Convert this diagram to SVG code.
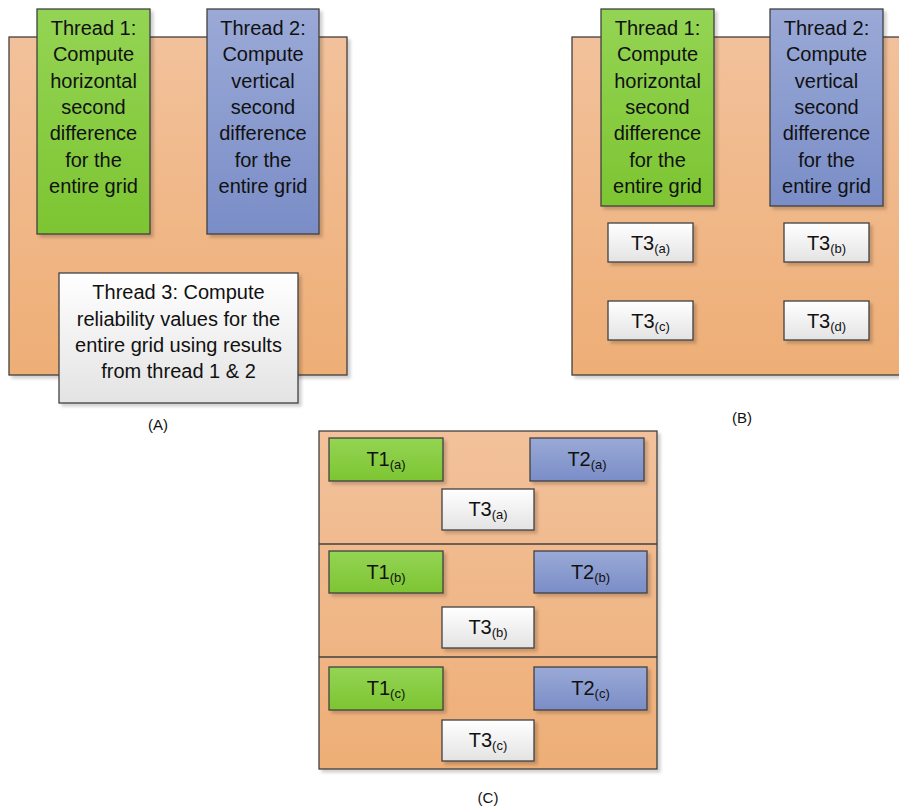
<svg xmlns="http://www.w3.org/2000/svg" width="899" height="809" viewBox="0 0 899 809">
<defs>
<linearGradient id="gOr" x1="0" y1="0" x2="0" y2="1"><stop offset="0" stop-color="#F2C19B"/><stop offset="1" stop-color="#EEAE76"/></linearGradient>
<linearGradient id="gGr" x1="0" y1="0" x2="0" y2="1"><stop offset="0" stop-color="#94D454"/><stop offset="1" stop-color="#7DC532"/></linearGradient>
<linearGradient id="gBl" x1="0" y1="0" x2="0" y2="1"><stop offset="0" stop-color="#9AA9D6"/><stop offset="1" stop-color="#7A8DC7"/></linearGradient>
<linearGradient id="gWh" x1="0" y1="0" x2="0" y2="1"><stop offset="0" stop-color="#FFFFFF"/><stop offset="1" stop-color="#E3E3E3"/></linearGradient>
<filter id="sh" x="-10%" y="-10%" width="130%" height="130%"><feDropShadow dx="3" dy="3" stdDeviation="1.5" flood-color="#000" flood-opacity="0.18"/></filter>
</defs>
<style>
.box{stroke:#404040;stroke-width:1.3;filter:url(#sh)}
.or{fill:url(#gOr)}
.gr{fill:url(#gGr)}
.bl{fill:url(#gBl)}
.wh{fill:url(#gWh)}
.div{stroke:#404040;stroke-width:1.3}
text{font-family:"Liberation Sans",Arial,sans-serif;fill:#111;text-anchor:middle}
.big{font-size:20px}
.sub{font-size:13px}
.lbl{font-size:15px}
</style>

<g id="panelA">
<rect class="box or" x="9" y="37" width="338" height="338"/>
<g id="A_thread1">
<rect class="box gr" x="37" y="9" width="113" height="225"/>
<text class="big"><tspan x="93.5" y="35">Thread 1:</tspan><tspan x="93.5" y="61">Compute</tspan><tspan x="93.5" y="88">horizontal</tspan><tspan x="93.5" y="114">second</tspan><tspan x="93.5" y="140">difference</tspan><tspan x="93.5" y="167">for the</tspan><tspan x="93.5" y="193">entire grid</tspan></text>
</g>
<g id="A_thread2">
<rect class="box bl" x="207" y="9" width="112" height="225"/>
<text class="big"><tspan x="263" y="35">Thread 2:</tspan><tspan x="263" y="61">Compute</tspan><tspan x="263" y="88">vertical</tspan><tspan x="263" y="114">second</tspan><tspan x="263" y="140">difference</tspan><tspan x="263" y="167">for the</tspan><tspan x="263" y="193">entire grid</tspan></text>
</g>
<g id="A_thread3">
<rect class="box wh" x="59" y="273" width="239" height="130"/>
<text class="big"><tspan x="178.5" y="299">Thread 3: Compute</tspan><tspan x="178.5" y="326">reliability values for the</tspan><tspan x="178.5" y="352">entire grid using results</tspan><tspan x="178.5" y="378">from thread 1 &amp; 2</tspan></text>
</g>
<text class="lbl" x="158" y="430">(A)</text>
</g>

<g id="panelB">
<rect class="box or" x="572" y="37" width="340" height="338"/>
<g id="B_thread1">
<rect class="box gr" x="601" y="9" width="113" height="197"/>
<text class="big"><tspan x="657.5" y="35">Thread 1:</tspan><tspan x="657.5" y="61">Compute</tspan><tspan x="657.5" y="88">horizontal</tspan><tspan x="657.5" y="114">second</tspan><tspan x="657.5" y="140">difference</tspan><tspan x="657.5" y="167">for the</tspan><tspan x="657.5" y="193">entire grid</tspan></text>
</g>
<g id="B_thread2">
<rect class="box bl" x="770" y="9" width="113" height="197"/>
<text class="big"><tspan x="826.5" y="35">Thread 2:</tspan><tspan x="826.5" y="61">Compute</tspan><tspan x="826.5" y="88">vertical</tspan><tspan x="826.5" y="114">second</tspan><tspan x="826.5" y="140">difference</tspan><tspan x="826.5" y="167">for the</tspan><tspan x="826.5" y="193">entire grid</tspan></text>
</g>
<g id="B_T3a"><rect class="box wh" x="608" y="223" width="85" height="39"/><text class="big" x="650.5" y="250">T3<tspan class="sub" dy="3">(a)</tspan></text></g>
<g id="B_T3b"><rect class="box wh" x="784" y="223" width="85" height="39"/><text class="big" x="826.5" y="250">T3<tspan class="sub" dy="3">(b)</tspan></text></g>
<g id="B_T3c"><rect class="box wh" x="608" y="301" width="85" height="39"/><text class="big" x="650.5" y="328">T3<tspan class="sub" dy="3">(c)</tspan></text></g>
<g id="B_T3d"><rect class="box wh" x="784" y="301" width="85" height="39"/><text class="big" x="826.5" y="328">T3<tspan class="sub" dy="3">(d)</tspan></text></g>
<text class="lbl" x="742" y="423">(B)</text>
</g>

<g id="panelC">
<rect class="box or" x="319" y="431" width="338" height="338"/>
<line class="div" x1="319" y1="544" x2="657" y2="544"/>
<line class="div" x1="319" y1="657" x2="657" y2="657"/>
<g id="C_T1a"><rect class="box gr" x="329" y="438" width="114" height="43"/><text class="big" x="386" y="466">T1<tspan class="sub" dy="3">(a)</tspan></text></g>
<g id="C_T2a"><rect class="box bl" x="530" y="438" width="114" height="43"/><text class="big" x="587" y="466">T2<tspan class="sub" dy="3">(a)</tspan></text></g>
<g id="C_T3a"><rect class="box wh" x="442" y="489" width="92" height="41"/><text class="big" x="488" y="516">T3<tspan class="sub" dy="3">(a)</tspan></text></g>
<g id="C_T1b"><rect class="box gr" x="329" y="551" width="114" height="42"/><text class="big" x="386" y="579">T1<tspan class="sub" dy="3">(b)</tspan></text></g>
<g id="C_T2b"><rect class="box bl" x="534" y="551" width="113" height="42"/><text class="big" x="590.5" y="579">T2<tspan class="sub" dy="3">(b)</tspan></text></g>
<g id="C_T3b"><rect class="box wh" x="442" y="607" width="92" height="41"/><text class="big" x="488" y="634">T3<tspan class="sub" dy="3">(b)</tspan></text></g>
<g id="C_T1c"><rect class="box gr" x="329" y="667" width="114" height="43"/><text class="big" x="386" y="695">T1<tspan class="sub" dy="3">(c)</tspan></text></g>
<g id="C_T2c"><rect class="box bl" x="534" y="667" width="113" height="43"/><text class="big" x="590.5" y="695">T2<tspan class="sub" dy="3">(c)</tspan></text></g>
<g id="C_T3c"><rect class="box wh" x="442" y="720" width="92" height="41"/><text class="big" x="488" y="747">T3<tspan class="sub" dy="3">(c)</tspan></text></g>
<text class="lbl" x="488" y="803">(C)</text>
</g>
<g id="connectors"/>
</svg>
